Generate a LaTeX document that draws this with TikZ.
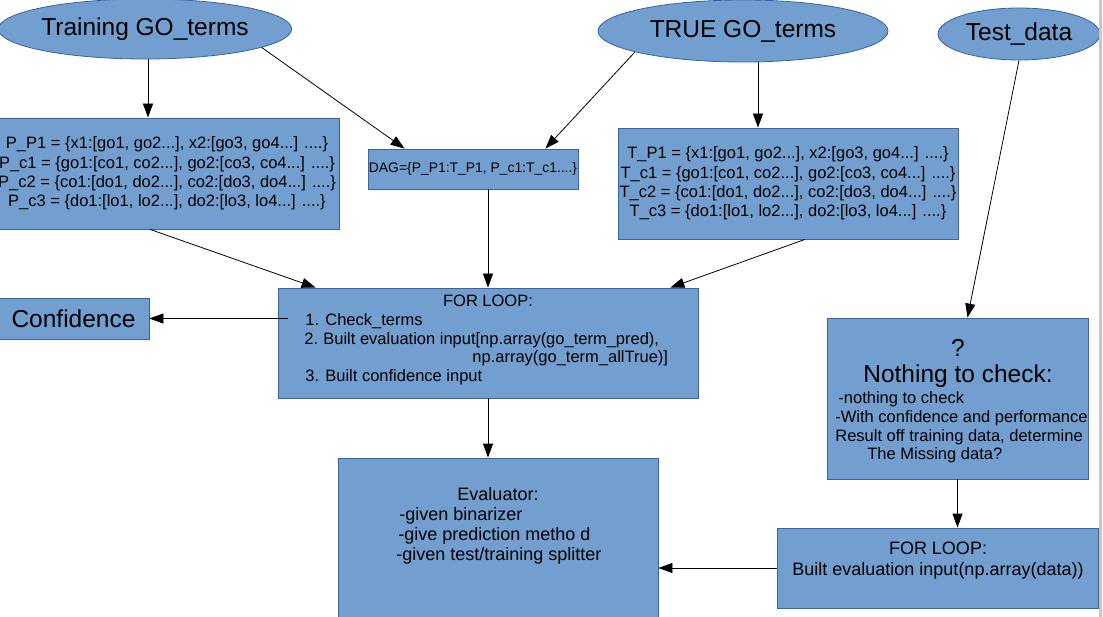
\documentclass[tikz,border=0pt]{standalone}
\usepackage{fontspec}
\setmainfont{Liberation Sans}
\usepackage{tikz}
\usetikzlibrary{shapes.geometric,arrows.meta,calc}

\definecolor{boxblue}{HTML}{729FCF}
\definecolor{boxedge}{HTML}{3465A4}
\newcommand\bigtxt{\fontsize{24.5}{28}\selectfont}
\newcommand\midtxt{\fontsize{18}{20.5}\selectfont}
\newcommand\smalltxt{\fontsize{16.5}{19.2}\selectfont}
\newcommand\tinytxt{\fontsize{13.9}{16}\selectfont}

\begin{document}
\begin{tikzpicture}[x=1pt, y=-1pt, line width=0.8pt,
	>={Triangle[length=14pt, width=10pt]},
	blob/.style={ellipse, draw=boxedge, fill=boxblue, inner sep=0pt, font=\bigtxt},
	box/.style={rectangle, draw=boxedge, fill=boxblue, inner sep=0pt, align=center},
	row/.style={inner sep=0pt, anchor=base west, font=\smalltxt}]
	\useasboundingbox (0,0) rectangle (1103,617);

	% the three inputs
	\node[blob, minimum width=292pt, minimum height=60pt] (train) at (145,29) {Training GO\_terms};
	\node[blob, minimum width=290pt, minimum height=62pt] (truego) at (743,31) {TRUE GO\_terms};
	\node[blob, minimum width=162pt, minimum height=52pt] (test) at (1019,34) {Test\_data};

	% dictionaries
	\node[box, font=\smalltxt, minimum width=344pt, minimum height=111pt] (pbox) at (167,173.5)
		{P\_P1 = \{x1:[go1, go2...], x2:[go3, go4...] ....\}\\
		 P\_c1 = \{go1:[co1, co2...], go2:[co3, co4...] ....\}\\
		 P\_c2 = \{co1:[do1, do2...], co2:[do3, do4...] ....\}\\
		 P\_c3 = \{do1:[lo1, lo2...], do2:[lo3, lo4...] ....\}};
	\node[box, font=\tinytxt, minimum width=210pt, minimum height=40pt] (dag) at (473,169)
		{DAG=\{P\_P1:T\_P1, P\_c1:T\_c1....\}};
	\node[box, font=\smalltxt, minimum width=340pt, minimum height=111pt] (tbox) at (788,183.5)
		{T\_P1 = \{x1:[go1, go2...], x2:[go3, go4...] ....\}\\
		 T\_c1 = \{go1:[co1, co2...], go2:[co3, co4...] ....\}\\
		 T\_c2 = \{co1:[do1, do2...], co2:[do3, do4...] ....\}\\
		 T\_c3 = \{do1:[lo1, lo2...], do2:[lo3, lo4...] ....\}};

	\node[box, font=\bigtxt, minimum width=151pt, minimum height=41pt] (conf) at (73.5,318.5) {Confidence};

	% main loop
	\node[box, minimum width=420pt, minimum height=110pt] (loop) at (488,343) {};
	\node[row, anchor=base] (loophead) at (488,307) {FOR LOOP:};
	\node[row] (check) at (305,326) {\makebox[20pt][l]{1.}Check\_terms};
	\node[row] (build) at (304,345) {\makebox[19pt][l]{2.}Built evaluation input[np.array(go\_term\_pred),};
	\node[row] (buildmore) at (472,363) {np.array(go\_term\_allTrue)]};
	\node[row] (confin) at (305,382) {\makebox[20pt][l]{3.}Built confidence input};

	% test side
	\node[box, minimum width=261pt, minimum height=161pt] (nothing) at (957.5,398.5) {};
	\node[row, anchor=base, font=\bigtxt] (qmark) at (958,357) {?};
	\node[row, anchor=base, font=\bigtxt] (nothead) at (958,383) {Nothing to check:};
	\node[row] (nline1) at (838,403) {-nothing to check};
	\node[row] (nline2) at (835,422) {-With confidence and performance};
	\node[row] (nline3) at (835,441) {Result off training data, determine};
	\node[row] (nline4) at (867,459) {The Missing data?};

	\node[box, minimum width=320pt, minimum height=172pt] (eval) at (498,544) {};
	\node[row, anchor=base, font=\midtxt] (evalhead) at (498,500) {Evaluator:};
	\node[row, font=\midtxt] (eline1) at (399,520) {-given binarizer};
	\node[row, font=\midtxt] (eline2) at (398,540) {-give prediction metho d};
	\node[row, font=\midtxt] (eline3) at (396,560) {-given test/training splitter};

	\node[box, minimum width=321pt, minimum height=80pt] (loop2) at (937.5,568) {};
	\node[row, anchor=base, font=\midtxt] (loop2head) at (938,554) {FOR LOOP:};
	\node[row, anchor=base, font=\midtxt] (loop2body) at (938,575) {Built evaluation input(np.array(data))};

	% arrows
	\draw[->] ([xshift=3pt]train.south) -- ([xshift=3pt]train.south |- pbox.north);
	\draw[->] (train.-9) -- ([xshift=37pt]dag.north west);
	\draw[->] (truego.191) -- ([xshift=-33pt]dag.north east);
	\draw[->] ([xshift=15pt]truego.south) -- ([xshift=-30pt]tbox.north);
	\draw[->] (test.south) -- ([xshift=10pt]nothing.north);
	\draw[->] ([xshift=-17pt]pbox.south) -- ([xshift=38pt]loop.north west);
	\draw[->] ([xshift=15pt]dag.south) -- (loop.north);
	\draw[->] ([xshift=17pt]tbox.south) -- ([xshift=-28pt]loop.north east);
	\draw[->] ($(loop.west |- conf.east)+(10,0)$) -- (conf.east);
	\draw[->] (loop.south) -- (loop.south |- eval.north);
	\draw[->] (nothing.south) -- (nothing.south |- loop2.north);
	\draw[->] (loop2.west) -- (loop2.west -| eval.east);

	% page edge
	\draw[black!22, line width=2.5pt] (1100.5,0) -- (1100.5,617);
\end{tikzpicture}
\end{document}
